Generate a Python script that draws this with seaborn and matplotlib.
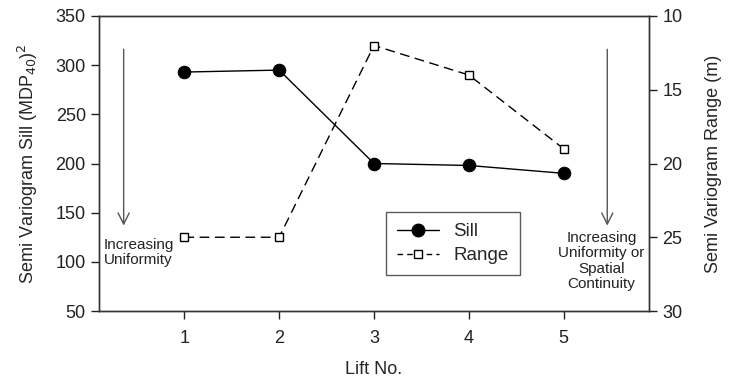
import matplotlib
matplotlib.use("Agg")
import matplotlib.pyplot as plt
import seaborn as sns
import pandas as pd
from matplotlib.lines import Line2D

lifts = [1, 2, 3, 4, 5]
sill = [293, 295, 200, 198, 190]
range_m = [25, 25, 12, 14, 19]

df = pd.DataFrame({"Lift": lifts, "Sill": sill, "Range": range_m})

sns.set_style("ticks")
plt.rcParams['font.family'] = ['Liberation Sans', 'DejaVu Sans']

fig = plt.figure(figsize=(7.3, 3.84), dpi=100)
ax = fig.add_axes([99/730, 1-311/384, (649-99)/730, (311-16)/384])
ax2 = ax.twinx()

sns.lineplot(data=df, x="Lift", y="Sill", ax=ax, color="black", lw=1,
             marker="o", markersize=9, markeredgecolor="black", markerfacecolor="black")
sns.lineplot(data=df, x="Lift", y="Range", ax=ax2, color="black", lw=1,
             linestyle=(0, (7, 4)), marker="s", markersize=6,
             markeredgecolor="black", markerfacecolor="white", markeredgewidth=1)

ax.set_xlim(0.1, 5.9)
ax.set_ylim(50, 350)
ax.set_yticks([50, 100, 150, 200, 250, 300, 350])
ax.set_xticks(lifts)
ax2.set_ylim(30, 10)
ax2.set_yticks([10, 15, 20, 25, 30])

for a in (ax, ax2):
    for s in a.spines.values():
        s.set_color("#333333")
        s.set_linewidth(1)
    a.tick_params(direction="out", length=6, width=1, colors="#222222", labelsize=13)
ax.tick_params(axis="x", pad=8)

ax.set_xlabel("Lift No.", fontsize=13, labelpad=10)
ax.set_ylabel(r"Semi Variogram Sill (MDP$_{40}$)$^2$", fontsize=13, labelpad=11)
ax2.set_ylabel("Semi Variogram Range (m)", fontsize=13, labelpad=16)

# annotations with arrows
ax.annotate("", xy=(0.36, 134), xytext=(0.36, 319),
            arrowprops=dict(arrowstyle="->", color="#555555", lw=1,
                            mutation_scale=20))
ax.text(0.15, 124, "Increasing\nUniformity", fontsize=11, ha="left", va="top",
        linespacing=1.1, color="#222222")
ax.annotate("", xy=(5.46, 134), xytext=(5.46, 319),
            arrowprops=dict(arrowstyle="->", color="#555555", lw=1,
                            mutation_scale=20))
ax.text(5.4, 131, "Increasing\nUniformity or\nSpatial\nContinuity", fontsize=11,
        ha="center", va="top", linespacing=1.1, color="#222222")

handles = [
    Line2D([], [], color="black", lw=1, marker="o", markersize=9,
           markerfacecolor="black"),
    Line2D([], [], color="black", lw=1, linestyle=(0, (4, 3)), marker="s",
           markersize=6, markerfacecolor="white"),
]
leg = ax2.legend(handles, ["Sill", "Range"], loc="upper left",
                 bbox_to_anchor=((386-99)/550, 1-(212-16)/295),
                 borderaxespad=0,
                 fontsize=13.5, frameon=True, fancybox=False, edgecolor="#333333",
                 handlelength=2.2, borderpad=0.6, labelspacing=0.35)
leg.get_frame().set_linewidth(1)
ax.get_legend() and ax.get_legend().remove()

fig.savefig("out.png", dpi=100)
